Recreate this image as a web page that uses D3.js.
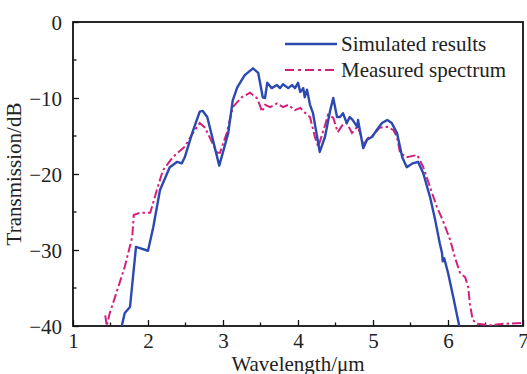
<!DOCTYPE html>
<html>
<head>
<meta charset="utf-8">
<script src="https://cdn.jsdelivr.net/npm/d3@7"></script>
<style>
  body { margin: 0; background: #fff; }
  text { font-family: "Liberation Serif", "Times New Roman", serif; fill: #222; }
</style>
</head>
<body>
<div id="chart"></div>
<script>
"use strict";

// == DATA ==
var simX = [1.65, 1.69, 1.76, 1.84, 2.00, 2.07, 2.16, 2.29, 2.39, 2.45, 2.49, 2.59, 2.69, 2.73, 2.79, 2.95, 3.07, 3.13, 3.19, 3.29, 3.40, 3.47, 3.53, 3.56, 3.59, 3.65, 3.72, 3.76, 3.80, 3.87, 3.92, 3.96, 4.00, 4.03, 4.07, 4.09, 4.12, 4.16, 4.20, 4.29, 4.36, 4.43, 4.47, 4.52, 4.56, 4.60, 4.65, 4.69, 4.73, 4.79, 4.80, 4.87, 4.92, 4.99, 5.05, 5.12, 5.19, 5.25, 5.32, 5.39, 5.45, 5.53, 5.60, 5.67, 5.76, 5.83, 5.89, 5.92, 5.93, 5.95, 6.00, 6.07, 6.15];
var simY = [-40, -38.3, -37.5, -29.6, -30.1, -27.0, -22.1, -19.1, -18.4, -18.6, -17.8, -14.6, -11.8, -11.7, -12.5, -18.9, -14.6, -10.3, -8.6, -7.0, -6.1, -6.7, -9.9, -10.0, -8.0, -8.7, -8.3, -8.7, -8.2, -8.7, -8.3, -8.7, -8.0, -9.2, -8.7, -9.9, -8.9, -10.9, -12.0, -17.1, -15.1, -11.6, -10.0, -12.5, -12.5, -12.0, -13.3, -12.5, -12.9, -13.8, -12.9, -16.6, -15.5, -15.1, -14.2, -13.3, -12.9, -13.3, -14.6, -17.8, -19.1, -18.6, -18.4, -19.9, -23.0, -26.1, -29.1, -30.4, -31.5, -31.1, -33.0, -36.2, -40];

var measX = [1.43, 1.45, 1.49, 1.59, 1.69, 1.79, 1.81, 1.89, 2.03, 2.13, 2.20, 2.33, 2.49, 2.60, 2.69, 2.76, 2.92, 2.96, 3.05, 3.13, 3.25, 3.36, 3.45, 3.49, 3.52, 3.56, 3.63, 3.72, 3.80, 3.87, 3.96, 4.03, 4.12, 4.16, 4.23, 4.27, 4.36, 4.40, 4.47, 4.53, 4.59, 4.65, 4.72, 4.79, 4.83, 4.87, 4.93, 5.00, 5.09, 5.19, 5.27, 5.32, 5.36, 5.45, 5.59, 5.67, 5.76, 5.85, 5.93, 6.03, 6.09, 6.16, 6.23, 6.27, 6.29, 6.33, 6.39, 6.56, 6.76, 7.00];
var measY = [-38.6, -40, -38.3, -35.3, -32.2, -28.3, -25.4, -25.1, -25.1, -21.7, -19.5, -17.8, -16.4, -14.6, -13.3, -13.9, -17.2, -17.2, -14.6, -11.2, -9.9, -9.3, -10.0, -10.9, -11.8, -10.9, -11.2, -10.7, -11.2, -10.9, -11.6, -11.3, -12.2, -12.5, -15.3, -16.4, -13.6, -12.2, -12.6, -14.5, -13.6, -13.3, -14.6, -13.8, -14.6, -16.2, -15.3, -14.9, -13.9, -13.8, -14.2, -15.1, -17.2, -17.8, -17.5, -19.1, -21.7, -24.3, -26.1, -28.7, -30.9, -33.0, -33.6, -34.9, -37.0, -39.2, -39.7, -39.9, -39.7, -39.6];

var xTicks = [1, 2, 3, 4, 5, 6, 7];
var yTicks = [-40, -30, -20, -10, 0];
var seriesNames = ["Simulated results", "Measured spectrum"];
var seriesColors = ["#2b49b0", "#d4207c"];

// == BOILERPLATE ==
var W = 527, H = 374;
var margin = { top: 22, right: 4, bottom: 48, left: 73 },
    width = W - margin.left - margin.right,
    height = H - margin.top - margin.bottom;

var svg = d3.select("#chart")
            .append("svg")
            .attr("width", W)
            .attr("height", H)
            .append("g")
            .attr("transform", "translate(" + margin.left + "," + margin.top + ")");

var xScale = d3.scaleLinear().domain([1, 7]).range([0, width]);
var yScale = d3.scaleLinear().domain([-40, 0]).range([height, 0]);

svg.append("clipPath").attr("id", "clip")
   .append("rect").attr("width", width).attr("height", height);

// minor ticks (inward)
var xMinor = d3.range(1.5, 7, 1);
var yMinor = d3.range(-35, 0, 10);

svg.selectAll(".xminor").data(xMinor).enter().append("line")
   .attr("x1", function (d) { return xScale(d); })
   .attr("x2", function (d) { return xScale(d); })
   .attr("y1", height).attr("y2", height - 3.5)
   .attr("stroke", "#111").attr("stroke-width", 1.3);
svg.selectAll(".yminor").data(yMinor).enter().append("line")
   .attr("y1", function (d) { return yScale(d); })
   .attr("y2", function (d) { return yScale(d); })
   .attr("x1", 0).attr("x2", 3.5)
   .attr("stroke", "#111").attr("stroke-width", 1.3);

// major axes
var xAxis = d3.axisBottom(xScale).tickValues(xTicks).tickFormat(d3.format("d"))
              .tickSizeInner(-6).tickSizeOuter(0).tickPadding(14);
var yAxis = d3.axisLeft(yScale).tickValues(yTicks).tickFormat(d3.format("d"))
              .tickSizeInner(-6).tickSizeOuter(0).tickPadding(11);

var gx = svg.append("g").attr("transform", "translate(0," + height + ")").call(xAxis);
var gy = svg.append("g").call(yAxis);
[gx, gy].forEach(function (g) {
  g.select(".domain").remove();
  g.selectAll("line").attr("stroke", "#111").attr("stroke-width", 1.3);
  g.selectAll("text").style("font-size", "21px").attr("fill", "#222")
   .style("font-family", "'Liberation Serif', 'Times New Roman', serif");
});
gx.selectAll("text").attr("dy", "0.4em");
gy.selectAll("text").attr("dy", "0.35em");

// frame
svg.append("rect").attr("width", width).attr("height", height)
   .attr("fill", "none").attr("stroke", "#111").attr("stroke-width", 1.8);

// == LINES ==
var line = d3.line()
  .x(function (d) { return xScale(d[0]); })
  .y(function (d) { return yScale(d[1]); });

var simData = d3.zip(simX, simY);
var measData = d3.zip(measX, measY);

svg.append("path").datum(measData)
   .attr("clip-path", "url(#clip)")
   .attr("d", line).attr("fill", "none")
   .attr("stroke", seriesColors[1]).attr("stroke-width", 2)
   .attr("stroke-dasharray", "9,3,2.5,3");

svg.append("path").datum(simData)
   .attr("clip-path", "url(#clip)")
   .attr("d", line).attr("fill", "none")
   .attr("stroke", seriesColors[0]).attr("stroke-width", 2.4)
   .attr("stroke-linejoin", "round");

// == LEGEND ==
var legend = svg.append("g").attr("transform", "translate(" + (285 - margin.left) + "," + (44 - margin.top) + ")");
seriesNames.forEach(function (name, i) {
  var row = legend.append("g").attr("transform", "translate(0," + (i * 26) + ")");
  row.append("line").attr("x1", 0).attr("x2", 52).attr("y1", 0).attr("y2", 0)
     .attr("stroke", seriesColors[i]).attr("stroke-width", i === 0 ? 2.4 : 2)
     .attr("stroke-dasharray", i === 0 ? null : "9,4,3,4");
  row.append("text").attr("x", 56).attr("y", 7)
     .style("font-size", "21px").text(name);
});

// == AXIS LABELS ==
svg.append("text")
   .attr("x", width / 2).attr("y", height + 45)
   .attr("text-anchor", "middle").style("font-size", "21px")
   .text("Wavelength/μm");

svg.append("text")
   .attr("transform", "translate(" + (-52) + "," + (height / 2) + ") rotate(-90)")
   .attr("text-anchor", "middle").style("font-size", "21px")
   .text("Transmission/dB");
</script>
</body>
</html>
